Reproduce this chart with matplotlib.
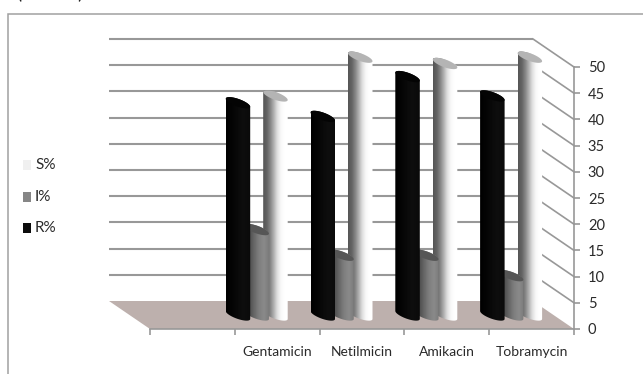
import numpy as np
import matplotlib
matplotlib.use("Agg")
import matplotlib.pyplot as plt
from matplotlib.path import Path
from matplotlib.patches import PathPatch, Polygon, Rectangle
from matplotlib.colors import LinearSegmentedColormap

categories = ["Gentamicin", "Netilmicin", "Amikacin", "Tobramycin"]
r_pct = [40.5, 37.9, 45.5, 41.8]
i_pct = [16.3, 11.4, 11.4, 7.5]
s_pct = [41.8, 49.2, 48.0, 49.2]
y_ticks = list(range(0, 55, 5))

W, H = 643, 374
plt.rcParams["font.family"] = ["Lato", "DejaVu Sans"]
TEXT = "#2a2a2a"
GRID = "#989898"
FLOOR = "#bdb0ad"

fig = plt.figure(figsize=(W / 100, H / 100), dpi=100, facecolor="white")
ax = fig.add_axes([150 / W, (H - 329) / H, 424 / W, 262 / H])
ax.set_xlim(-0.5, 4.5)
ax.set_ylim(0, 50)
ax.patch.set_visible(False)

# pixel sizes expressed in axis units
px = 5 / 424
py = 50 / 262
depth_x, depth_y = -41 * px, 28 * py
zo = [3]


def cylinder(xc, val, cmap, top_col):
    # upright cylinder standing half way into the depth of the box
    a, tilt, b = 12.25 * px, 4 * py, 4 * py
    cx = xc + depth_x / 2
    base = depth_y / 2
    t = np.linspace(0, 2 * np.pi, 60)
    lower = np.linspace(np.pi, 2 * np.pi, 30)
    upper = np.linspace(0, np.pi, 30)
    # the right end of each ellipse sits lower, so the caps slant
    bx = cx + a * np.cos(lower)
    by = base - tilt * np.cos(lower) + b * np.sin(lower)
    ux = cx + a * np.cos(upper)
    uy = base + val - tilt * np.cos(upper) + b * np.sin(upper)
    verts = np.column_stack([np.r_[bx, ux], np.r_[by, uy]])
    body = PathPatch(Path(np.vstack([verts, verts[:1]])), transform=ax.transData,
                     fc="none", ec="none", clip_on=False)
    ax.add_patch(body)
    grad = np.linspace(0, 1, 64).reshape(1, -1)
    im = ax.imshow(grad, cmap=cmap, vmin=0, vmax=1, aspect="auto",
                   extent=[cx - a, cx + a, base - 10 * py, base + val + 10 * py],
                   interpolation="bilinear")
    im.set_clip_box(fig.bbox)
    im.set_clip_path(body)
    im.set_zorder(zo[0])
    top = Polygon(np.column_stack([cx + a * np.cos(t),
                                   base + val - tilt * np.cos(t) + b * np.sin(t)]),
                  closed=True, fc=top_col, ec="none", zorder=zo[0] + 0.1, clip_on=False)
    ax.add_patch(top)
    zo[0] += 1


# back wall gridlines and the side wall diagonals
for v in y_ticks[1:]:
    ax.plot([-0.5 + depth_x, 4.5 + depth_x], [v + depth_y] * 2, color=GRID, lw=1.5,
            clip_on=False, zorder=1, solid_capstyle="butt")
    ax.plot([4.5 + depth_x, 4.5], [v + depth_y, v], color=GRID, lw=1.2,
            clip_on=False, zorder=1)

floor = Polygon([(-0.5 + depth_x, depth_y), (4.5 + depth_x, depth_y), (4.5, 0), (-0.5, 0)],
                closed=True, fc=FLOOR, ec="none", clip_on=False, zorder=1.5)
ax.add_patch(floor)

s_map = LinearSegmentedColormap.from_list("s", ["#555555", "#636363", "#848484", "#b0b0b0", "#dedede", "#f8f8f8", "#ffffff", "#ffffff"])
i_map = LinearSegmentedColormap.from_list("i", ["#3e3e3e", "#4c4c4c", "#666666", "#7e7e7e", "#8a8a8a", "#7c7c7c"])
r_map = LinearSegmentedColormap.from_list("r", ["#000000", "#060606", "#0e0e0e", "#0a0a0a"])

step = 18.75 * px
for k in range(len(categories)):
    xc = k + 1
    cylinder(xc + step, s_pct[k], s_map, "#b4b4b4")
    cylinder(xc, i_pct[k], i_map, "#565656")
    cylinder(xc - step, r_pct[k], r_map, "#040404")

ax.set_xlim(-0.5, 4.5)
ax.set_ylim(0, 50)

# axes: value scale on the right, category boundaries below
for side in ["top", "left"]:
    ax.spines[side].set_visible(False)
ax.spines["right"].set_color(GRID)
ax.spines["bottom"].set_color(GRID)
ax.spines["right"].set_linewidth(1.2)
ax.spines["bottom"].set_linewidth(1.2)
ax.yaxis.tick_right()
ax.set_yticks(y_ticks)
ax.set_yticklabels([str(v) for v in y_ticks], fontsize=10.5, color=TEXT)
ax.tick_params(axis="y", length=4, width=1.2, color=GRID, pad=6)
ax.set_xticks(np.arange(-0.5, 5, 1), minor=True)
ax.set_xticks(np.arange(1, 5))
ax.set_xticklabels(categories, fontsize=10, color=TEXT)
ax.tick_params(axis="x", which="minor", length=4, width=1.2, color=GRID)
ax.tick_params(axis="x", which="major", length=0, pad=12)

# legend and chart frame live in figure pixels
bg = fig.add_axes([0, 0, 1, 1], zorder=-1)
bg.set_xlim(0, W)
bg.set_ylim(H, 0)
bg.axis("off")
bg.plot([7.5, 7.5, W], [H, 13.5, 13.5], color="#a0a0a0", lw=1.1, solid_joinstyle="miter")
for name, col, y in [("S%", "#f0f0f0", 165), ("I%", "#868686", 197), ("R%", "#0c0c0c", 228)]:
    bg.add_patch(Rectangle((23, y - 5), 8, 9.5, fc=col, ec="none"))
    bg.text(35, y, name, fontsize=11, color=TEXT, va="center", ha="left")
bg.text(16, 1, "(", fontsize=14, color="#222222", va="bottom", ha="left")
bg.text(77, 1, ")", fontsize=14, color="#222222", va="bottom", ha="left")

fig.savefig("out.png", dpi=100)
